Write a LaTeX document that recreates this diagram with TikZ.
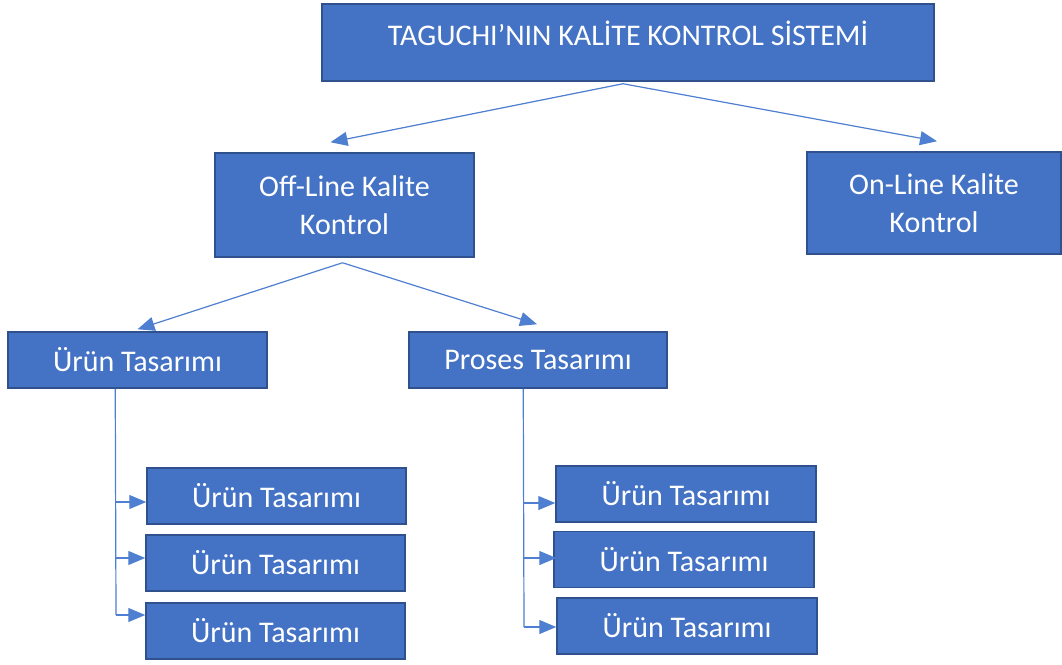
\documentclass[tikz,border=0pt]{standalone}
\usepackage{fontspec}
\setmainfont{Carlito}
\usetikzlibrary{arrows.meta,calc}
\definecolor{boxfill}{HTML}{4472C4}
\definecolor{boxline}{HTML}{2F528F}
\definecolor{arrowc}{HTML}{4F7FD0}
\begin{document}
\begin{tikzpicture}[x=1pt,y=-1pt,
  box/.style={draw=boxline, line width=1.5pt, fill=boxfill, text=white, inner sep=0pt,
    font=\fontsize{30}{38}\selectfont, align=center},
  conn/.style={draw=arrowc, line width=1.2pt, -{Triangle[length=17pt,width=14pt]}},
  plain/.style={draw=arrowc, line width=1.2pt}]
\useasboundingbox (0,0) rectangle (1062,664);
% top
\node[box, minimum width=612, minimum height=77] (T) at (628,42.5) {\raisebox{19pt}{TAGUCHI’NIN KALİTE KONTROL SİSTEMİ}};
\node[box, minimum width=259, minimum height=104] (off) at (344.5,205) {Off-Line Kalite\\Kontrol};
\node[box, minimum width=254, minimum height=102] (on) at (934,203) {On-Line Kalite\\Kontrol};
% level 2
\node[box, minimum width=259, minimum height=56] (U) at (137.5,360) {Ürün Tasarımı};
\node[box, minimum width=258, minimum height=56] (P) at (538,360) {Proses Tasarımı};
% left children
\node[box, minimum width=259, minimum height=56] (L1) at (276.5,496) {Ürün Tasarımı};
\node[box, minimum width=259, minimum height=56] (L2) at (275.5,563) {Ürün Tasarımı};
\node[box, minimum width=259, minimum height=56] (L3) at (275.5,631) {Ürün Tasarımı};
% right children
\node[box, minimum width=260, minimum height=56] (R1) at (686,494) {Ürün Tasarımı};
\node[box, minimum width=260, minimum height=56] (R2) at (684,559.5) {Ürün Tasarımı};
\node[box, minimum width=260, minimum height=56] (R3) at (687,626) {Ürün Tasarımı};
% top connectors
\coordinate (ts) at ($(T.south)+(-5,2)$);
\coordinate (offtip) at ($(off.north)+(-14,-10)$);
\coordinate (ontip) at ($(on.north)+(3,-10)$);
\draw[conn] (ts) -- (offtip);
\draw[conn] (ts) -- (ontip);
\coordinate (os) at ($(off.south)+(-2,5)$);
\coordinate (utip) at ($(U.north)+(0,-2)$);
\coordinate (ptip) at ($(P.north)+(-1,-7)$);
\draw[conn] (os) -- (utip);
\draw[conn] (os) -- (ptip);
% left tree
\coordinate (ls) at ($(U.south west)+(108,0)$);
\coordinate (la1) at (116,502);
\coordinate (la2) at (116,558);
\coordinate (la3) at (116,615);
\draw[plain] (ls) -- (la3);
\draw[conn] (la1) -- (la1 -| L1.west);
\draw[conn] (la2) -- (la2 -| L2.west);
\draw[conn] (la3) -- (la3 -| L3.west);
% right tree
\coordinate (rs) at ($(P.south west)+(115,0)$);
\coordinate (ra1) at (524,503);
\coordinate (ra2) at (524,558);
\coordinate (ra3) at (524,627);
\draw[plain] (rs) -- (ra3);
\draw[conn] (ra1) -- (ra1 -| R1.west);
\draw[conn] (ra2) -- ($(ra2 -| R2.west)+(3,0)$);
\draw[conn] (ra3) -- (ra3 -| R3.west);
\end{tikzpicture}
\end{document}
